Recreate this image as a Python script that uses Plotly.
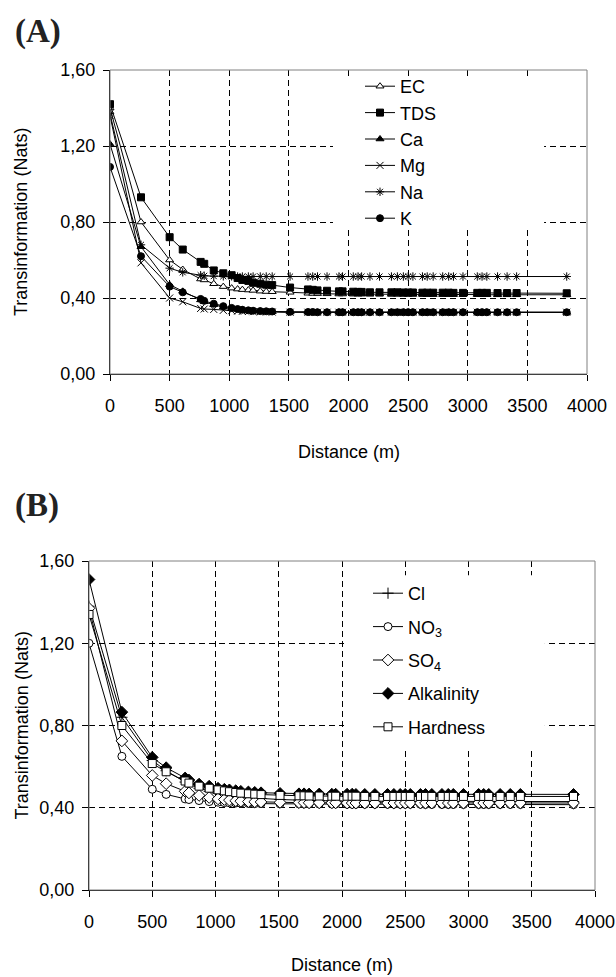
import plotly.graph_objects as go

# ---------------- data ----------------
distance_m = [0, 260, 500, 610, 760, 790, 870, 950, 1020, 1070,
              1110, 1160, 1200, 1260, 1310, 1360, 1510, 1660, 1700, 1740,
              1820, 1920, 1950, 2040, 2080, 2110, 2180, 2260, 2360, 2410,
              2460, 2500, 2540, 2620, 2660, 2710, 2790, 2840, 2880, 2960,
              3080, 3120, 3160, 3250, 3330, 3410, 3830]

# Panel A
ec = [1.40, 0.80, 0.60, 0.55, 0.50, 0.495, 0.475, 0.46, 0.452, 0.447,
      0.444, 0.442, 0.44, 0.436, 0.434, 0.433, 0.43, 0.425, 0.424, 0.423,
      0.422, 0.421, 0.421, 0.42, 0.42, 0.42, 0.42, 0.42, 0.419, 0.419,
      0.419, 0.419, 0.419, 0.419, 0.418, 0.418, 0.418, 0.418, 0.418, 0.418,
      0.418, 0.417, 0.417, 0.417, 0.417, 0.417, 0.417]
tds = [1.42, 0.93, 0.72, 0.655, 0.59, 0.58, 0.545, 0.53, 0.52, 0.505,
       0.495, 0.49, 0.48, 0.475, 0.47, 0.468, 0.455, 0.445, 0.443, 0.44,
       0.438, 0.435, 0.435, 0.433, 0.432, 0.432, 0.43, 0.43, 0.43, 0.43,
       0.429, 0.429, 0.429, 0.428, 0.428, 0.428, 0.428, 0.428, 0.427, 0.427,
       0.427, 0.427, 0.427, 0.426, 0.426, 0.426, 0.425]
ca = [1.21, 0.67, 0.47, 0.435, 0.39, 0.38, 0.365, 0.352, 0.345, 0.34,
      0.337, 0.334, 0.332, 0.33, 0.329, 0.328, 0.326, 0.325, 0.325, 0.325,
      0.325, 0.325, 0.325, 0.325, 0.325, 0.325, 0.325, 0.325, 0.325, 0.325,
      0.325, 0.325, 0.325, 0.325, 0.325, 0.325, 0.325, 0.325, 0.325, 0.325,
      0.325, 0.325, 0.325, 0.324, 0.324, 0.324, 0.324]
mg = [1.36, 0.585, 0.40, 0.38, 0.345, 0.342, 0.34, 0.335, 0.333, 0.331,
      0.33, 0.329, 0.328, 0.327, 0.327, 0.326, 0.325, 0.325, 0.325, 0.325,
      0.325, 0.325, 0.325, 0.325, 0.325, 0.325, 0.325, 0.325, 0.325, 0.325,
      0.325, 0.325, 0.325, 0.325, 0.325, 0.325, 0.325, 0.325, 0.325, 0.325,
      0.325, 0.325, 0.325, 0.325, 0.325, 0.325, 0.325]
na = [1.37, 0.68, 0.557, 0.535, 0.52, 0.517, 0.515, 0.514, 0.514, 0.513,
      0.513, 0.513, 0.513, 0.513, 0.513, 0.513, 0.513, 0.513, 0.513, 0.513,
      0.513, 0.513, 0.513, 0.513, 0.513, 0.513, 0.513, 0.513, 0.513, 0.513,
      0.513, 0.513, 0.513, 0.513, 0.513, 0.513, 0.513, 0.513, 0.513, 0.513,
      0.513, 0.513, 0.513, 0.513, 0.513, 0.513, 0.513]
k = [1.09, 0.62, 0.46, 0.43, 0.395, 0.385, 0.37, 0.357, 0.348, 0.342,
     0.338, 0.335, 0.333, 0.331, 0.33, 0.329, 0.327, 0.326, 0.326, 0.325,
     0.325, 0.325, 0.325, 0.325, 0.325, 0.325, 0.325, 0.325, 0.325, 0.325,
     0.325, 0.325, 0.325, 0.325, 0.325, 0.325, 0.325, 0.325, 0.325, 0.325,
     0.325, 0.325, 0.325, 0.325, 0.325, 0.325, 0.325]

# Panel B
cl = [1.38, 0.84, 0.63, 0.58, 0.525, 0.515, 0.495, 0.48, 0.47, 0.465,
      0.46, 0.456, 0.452, 0.449, 0.447, 0.445, 0.44, 0.437, 0.436, 0.435,
      0.434, 0.433, 0.433, 0.432, 0.432, 0.432, 0.431, 0.431, 0.431, 0.431,
      0.431, 0.431, 0.43, 0.43, 0.43, 0.43, 0.43, 0.43, 0.43, 0.43,
      0.43, 0.43, 0.43, 0.43, 0.43, 0.43, 0.43]
no3 = [1.20, 0.65, 0.49, 0.465, 0.443, 0.44, 0.435, 0.43, 0.427, 0.425,
       0.424, 0.423, 0.422, 0.421, 0.42, 0.42, 0.419, 0.419, 0.418, 0.418,
       0.418, 0.418, 0.418, 0.417, 0.417, 0.417, 0.417, 0.417, 0.417, 0.417,
       0.417, 0.417, 0.417, 0.417, 0.416, 0.416, 0.416, 0.416, 0.416, 0.416,
       0.416, 0.416, 0.416, 0.416, 0.416, 0.416, 0.415]
so4 = [1.37, 0.725, 0.557, 0.517, 0.48, 0.472, 0.46, 0.45, 0.443, 0.44,
       0.437, 0.434, 0.432, 0.43, 0.429, 0.428, 0.426, 0.425, 0.425, 0.424,
       0.424, 0.424, 0.424, 0.423, 0.423, 0.423, 0.423, 0.423, 0.423, 0.423,
       0.423, 0.423, 0.423, 0.423, 0.423, 0.423, 0.423, 0.423, 0.423, 0.423,
       0.423, 0.423, 0.423, 0.423, 0.423, 0.423, 0.423]
alkalinity = [1.51, 0.865, 0.645, 0.595, 0.545, 0.535, 0.515, 0.505, 0.495, 0.49,
              0.487, 0.483, 0.48, 0.477, 0.475, 0.473, 0.47, 0.468, 0.468, 0.467,
              0.467, 0.466, 0.466, 0.466, 0.466, 0.465, 0.465, 0.465, 0.465, 0.465,
              0.465, 0.465, 0.465, 0.465, 0.465, 0.465, 0.465, 0.465, 0.465, 0.465,
              0.465, 0.465, 0.465, 0.465, 0.465, 0.465, 0.465]
hardness = [1.34, 0.80, 0.615, 0.575, 0.53, 0.52, 0.505, 0.495, 0.487, 0.482,
            0.478, 0.474, 0.471, 0.468, 0.466, 0.464, 0.46, 0.458, 0.458, 0.457,
            0.457, 0.456, 0.456, 0.456, 0.456, 0.456, 0.455, 0.455, 0.455, 0.455,
            0.455, 0.455, 0.455, 0.455, 0.455, 0.455, 0.455, 0.455, 0.455, 0.455,
            0.455, 0.455, 0.455, 0.455, 0.455, 0.455, 0.455]

x_tickvals = [0, 500, 1000, 1500, 2000, 2500, 3000, 3500, 4000]
x_ticktext = ["0", "500", "1000", "1500", "2000", "2500", "3000", "3500", "4000"]
y_tickvals = [0.0, 0.4, 0.8, 1.2, 1.6]
y_ticktext = ["0,00", "0,40", "0,80", "1,20", "1,60"]

series_a = [("EC", ec, "triangle-up", "white"),
            ("TDS", tds, "square", "black"),
            ("Ca", ca, "triangle-up", "black"),
            ("Mg", mg, "x-thin-open", "black"),
            ("Na", na, "asterisk-open", "black"),
            ("K", k, "circle", "black")]
series_b = [("Cl", cl, "cross-thin-open", "black"),
            ("NO<sub>3</sub>", no3, "circle", "white"),
            ("SO<sub>4</sub>", so4, "diamond", "white"),
            ("Alkalinity", alkalinity, "diamond", "black"),
            ("Hardness", hardness, "square", "white")]

# ---------------- layout geometry ----------------
W, H = 616, 977
A_px = (110, 587, 70, 374)   # left, right, top, bottom
B_px = (89, 595, 561, 890)

def xdom(p):
    return [p[0] / W, p[1] / W]

def ydom(p):
    return [1 - p[3] / H, 1 - p[2] / H]

FONT = "Liberation Sans, Arial, sans-serif"

fig = go.Figure()

for name, vals, sym, fill in series_a:
    fig.add_trace(go.Scatter(
        x=distance_m, y=vals, name=name, mode="lines+markers",
        xaxis="x", yaxis="y", legend="legend", legendgroup=name,
        line=dict(color="black", width=1),
        marker=dict(symbol=sym, size=7, color=fill,
                    line=dict(color="black", width=1)),
    ))

for name, vals, sym, fill in series_b:
    fig.add_trace(go.Scatter(
        x=distance_m, y=vals, name=name, mode="lines+markers",
        xaxis="x2", yaxis="y2", legend="legend2", legendgroup=name,
        line=dict(color="black", width=1),
        marker=dict(symbol=sym, size=8 if sym != "diamond" else 9, color=fill,
                    line=dict(color="black", width=1)),
    ))

axis_common = dict(
    showgrid=True, gridcolor="black", gridwidth=1, griddash="6px,4px",
    showline=True, linecolor="black", linewidth=1,
    ticks="outside", ticklen=6, tickcolor="black", tickwidth=1,
    zeroline=False, automargin=False,
    tickfont=dict(family=FONT, size=18, color="black"),
)

fig.update_layout(
    width=W, height=H,
    margin=dict(l=0, r=0, t=0, b=0, autoexpand=False),
    paper_bgcolor="white", plot_bgcolor="white",
    font=dict(family=FONT, size=17, color="black"),
    xaxis=dict(domain=xdom(A_px), anchor="y", range=[0, 4000],
               tickvals=x_tickvals, ticktext=x_ticktext,
               ticklabelstandoff=9, **axis_common),
    yaxis=dict(domain=ydom(A_px), anchor="x", range=[0, 1.6],
               tickvals=y_tickvals, ticktext=y_ticktext,
               ticklabelstandoff=4, **axis_common),
    xaxis2=dict(domain=xdom(B_px), anchor="y2", range=[0, 4000],
                tickvals=x_tickvals, ticktext=x_ticktext,
                ticklabelstandoff=9, **axis_common),
    yaxis2=dict(domain=ydom(B_px), anchor="x2", range=[0, 1.6],
                tickvals=y_tickvals, ticktext=y_ticktext,
                ticklabelstandoff=4, **axis_common),
    legend=dict(x=360 / W, xanchor="left", y=1 - 68 / H, yanchor="top",
                bgcolor="rgba(0,0,0,0)", borderwidth=0,
                font=dict(family=FONT, size=18, color="black"),
                tracegroupgap=0),
    legend2=dict(x=368 / W, xanchor="left", y=1 - 575 / H, yanchor="top",
                 bgcolor="rgba(0,0,0,0)", borderwidth=0,
                 font=dict(family=FONT, size=18, color="black"),
                 tracegroupgap=7),
    showlegend=True,
)

shapes = []
for xr, yr, box in (("x", "y", (0.4675, 0.91, 0.474, 0.98)),
                    ("x2", "y2", (0.504, 0.901, 0.435, 0.957))):
    # white legend background hiding the grid (no data lies there)
    shapes.append(dict(type="rect", xref=f"{xr} domain", yref=f"{yr} domain",
                       x0=box[0], x1=box[1], y0=box[2], y1=box[3],
                       layer="above", line=dict(width=0), fillcolor="white"))
    # gray plot frame
    shapes.append(dict(type="rect", xref=f"{xr} domain", yref=f"{yr} domain",
                       x0=0, x1=1, y0=0, y1=1, layer="above",
                       line=dict(color="#808080", width=1),
                       fillcolor="rgba(0,0,0,0)"))
fig.update_layout(shapes=shapes)

ann = []
for label, yc in (("(A)", 32), ("(B)", 505)):
    ann.append(dict(text=f"<b>{label}</b>", x=13 / W, y=1 - yc / H,
                    xref="paper", yref="paper", xanchor="left", yanchor="middle",
                    showarrow=False,
                    font=dict(family="Liberation Serif, Times New Roman, serif",
                              size=33, color="#222")))
for p in (A_px, B_px):
    ann.append(dict(text="Transinformation (Nats)", textangle=-90,
                    x=21 / W, y=1 - ((p[2] + p[3]) / 2) / H,
                    xref="paper", yref="paper", xanchor="center", yanchor="middle",
                    showarrow=False, font=dict(family=FONT, size=18, color="black")))
for p, yc in ((A_px, 452), (B_px, 965)):
    ann.append(dict(text="Distance (m)", x=((p[0] + p[1]) / 2) / W, y=1 - yc / H,
                    xref="paper", yref="paper", xanchor="center", yanchor="middle",
                    showarrow=False, font=dict(family=FONT, size=18, color="black")))
fig.update_layout(annotations=ann)

fig.write_html("out.html")
